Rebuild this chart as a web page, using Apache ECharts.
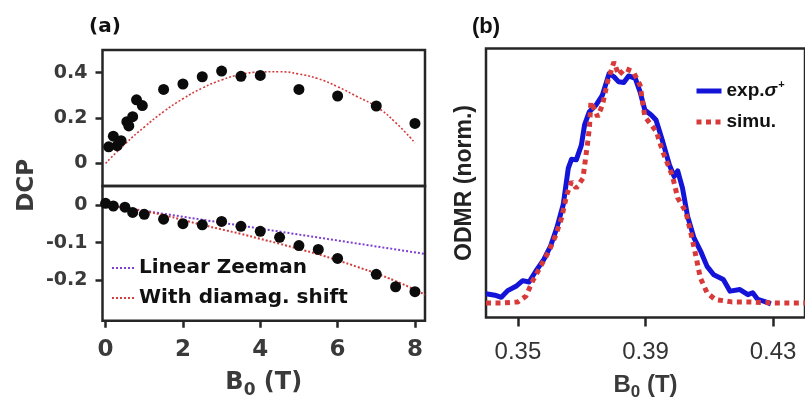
<!DOCTYPE html>
<html><head><meta charset="utf-8">
<script src="https://cdn.jsdelivr.net/npm/echarts@6/dist/echarts.min.js"></script>
<style>html,body{margin:0;padding:0;background:#fff}#c{width:805px;height:412px}</style>
</head><body><div id="c"></div>
<script>
// ---- Panel (a), upper: DCP (positive branch)
const highB = [0.08,0.2,0.3,0.4,0.55,0.6,0.7,0.8,0.95,1.5,2,2.5,3,3.5,4,5,6,7,8];
const highV = [0.073,0.12,0.078,0.10,0.184,0.165,0.206,0.28,0.255,0.326,0.35,0.382,0.407,0.384,0.388,0.326,0.297,0.253,0.176];
const fitB = [0,0.5,1,1.5,2,2.5,3,3.5,4,4.5,5,5.5,6,6.5,7,7.5,8];
const fitHigh = [0.0,0.085,0.16,0.228,0.285,0.332,0.368,0.392,0.403,0.404,0.394,0.373,0.338,0.295,0.25,0.18,0.09];
// ---- Panel (a), lower: DCP (negative branch)
const lowB = [0,0.2,0.5,0.7,1,1.5,2,2.5,3,3.5,4,4.5,5,5.5,6,7,7.5,8];
const lowV = [0.004,-0.003,-0.006,-0.02,-0.025,-0.038,-0.05,-0.053,-0.044,-0.057,-0.07,-0.086,-0.108,-0.118,-0.142,-0.184,-0.217,-0.23];
const zeemanB = [0,8.26];
const zeemanV = [0,-0.13];
const diaB = [0,0.5,1,1.5,2,2.5,3,3.5,4,4.5,5,5.5,6,6.5,7,7.5,8,8.26];
const diaV = [0,-0.008,-0.017,-0.027,-0.04,-0.053,-0.065,-0.077,-0.09,-0.103,-0.117,-0.131,-0.147,-0.164,-0.182,-0.202,-0.225,-0.238];
const aXTicks = [0,2,4,6,8];
const aHighTicks = [0,0.2,0.4];
const aLowTicks = [0,-0.1,-0.2];
// ---- Panel (b): ODMR
const expB = [0.3400,0.3428,0.3448,0.3468,0.3494,0.3515,0.3535,0.3556,0.3581,0.3602,0.3622,0.3642,0.3658,0.3668,0.3683,0.3699,0.3709,0.3724,0.3745,0.3765,0.3786,0.3801,0.3816,0.3832,0.3847,0.3868,0.3883,0.3898,0.3918,0.3933,0.3954,0.3975,0.3990,0.4001,0.4016,0.4032,0.4052,0.4073,0.4093,0.4114,0.4144,0.4165,0.4196,0.4221,0.4236,0.4252,0.4272,0.4293];
const expV = [0.088,0.083,0.075,0.100,0.116,0.137,0.132,0.172,0.215,0.264,0.333,0.419,0.555,0.588,0.586,0.641,0.716,0.765,0.790,0.827,0.907,0.895,0.876,0.874,0.898,0.889,0.839,0.771,0.753,0.734,0.654,0.567,0.524,0.545,0.481,0.376,0.296,0.246,0.190,0.159,0.141,0.098,0.104,0.085,0.092,0.067,0.060,0.051];
const simB = [0.3400,0.3448,0.3500,0.3525,0.3546,0.3571,0.3597,0.3617,0.3637,0.3653,0.3668,0.3683,0.3704,0.3719,0.3724,0.3729,0.3750,0.3765,0.3781,0.3801,0.3816,0.3837,0.3862,0.3883,0.3898,0.3914,0.3934,0.3954,0.3985,0.4001,0.4026,0.4041,0.4057,0.4072,0.4093,0.4118,0.4170,0.4226,0.4301,0.4400];
const simV = [0.054,0.054,0.058,0.079,0.135,0.190,0.246,0.301,0.370,0.456,0.505,0.481,0.518,0.654,0.703,0.802,0.746,0.790,0.876,0.950,0.901,0.926,0.913,0.864,0.746,0.722,0.691,0.617,0.524,0.444,0.394,0.320,0.234,0.147,0.092,0.067,0.058,0.058,0.054,0.054];
const bXTicks = [0.35,0.39,0.43];

const zip = (a,b) => a.map((v,i) => [v,b[i]]);
const LF = 'DejaVu Sans', RF = 'Liberation Sans';
const frame = '#262626', tickCol = '#3a3a3a';
const tickStyle = {lineStyle:{color:frame,width:2.5}};

const subRich = (font, big, small, color) => ({
  b:{fontFamily:font,fontWeight:'bold',fontSize:big,color:color,lineHeight:big+1},
  s:{fontFamily:font,fontWeight:'bold',fontSize:small,color:color,lineHeight:small,padding:[14,0,0,0]}
});

const chart = echarts.init(document.getElementById('c'));
chart.setOption({
  animation:false,
  backgroundColor:'#fff',
  title:[
    {text:'(a)', left:89, top:17, padding:0, textStyle:{fontFamily:LF,fontWeight:'bold',fontSize:20,color:'#111'}},
    {text:'(b)', left:472, top:16, padding:0, textStyle:{fontFamily:RF,fontWeight:'bold',fontSize:22,color:'#111'}}
  ],
  grid:[
    {left:102.5, top:50, width:322.5, height:136, show:true, borderColor:frame, borderWidth:2.5},
    {left:102.5, top:186, width:322.5, height:134.7, show:true, borderColor:frame, borderWidth:2.5},
    {left:102.5, top:50, width:322.5, height:270.7},
    {left:486, top:48.5, width:326, height:269, show:true, borderColor:frame, borderWidth:2.5}
  ],
  xAxis:[
    {gridIndex:0, type:'value', min:-0.08, max:8.26, axisLine:{show:false,onZero:false}, axisTick:{show:false}, axisLabel:{show:false}, splitLine:{show:false}},
    {gridIndex:1, type:'value', min:-0.08, max:8.26, axisLine:{show:false,onZero:false}, splitLine:{show:false},
      axisTick:Object.assign({length:7, customValues:aXTicks}, tickStyle),
      axisLabel:{customValues:aXTicks, margin:18, fontFamily:LF, fontWeight:'bold', fontSize:23, color:tickCol},
      name:'{b|B}{s|0}{b| (T)}', nameLocation:'middle', nameGap:50,
      nameTextStyle:{rich:subRich(LF,24,17,tickCol)}},
    {gridIndex:2, type:'value', min:0, max:1, show:false, axisLine:{onZero:false}},
    {gridIndex:3, type:'value', min:0.34, max:0.44, axisLine:{show:false,onZero:false}, splitLine:{show:false},
      axisTick:Object.assign({length:9, customValues:bXTicks}, tickStyle),
      axisLabel:{customValues:bXTicks, margin:23, fontFamily:RF, fontSize:24, color:'#333', formatter:v=>v.toFixed(2)},
      name:'{b|B}{s|0}{b| (T)}', nameLocation:'middle', nameGap:51,
      nameTextStyle:{rich:subRich(RF,24,17,'#3a3a3a')}}
  ],
  yAxis:[
    {gridIndex:0, type:'value', min:-0.1, max:0.5, axisLine:{show:false,onZero:false}, splitLine:{show:false},
      axisTick:Object.assign({length:7, customValues:aHighTicks}, tickStyle),
      axisLabel:{customValues:aHighTicks, margin:15, fontFamily:LF, fontWeight:'bold', fontSize:19, color:tickCol, formatter:v=>String(+v.toFixed(1))}},
    {gridIndex:1, type:'value', min:-0.307, max:0.05, axisLine:{show:false,onZero:false}, splitLine:{show:false},
      axisTick:Object.assign({length:7, customValues:aLowTicks}, tickStyle),
      axisLabel:{customValues:aLowTicks, margin:15, fontFamily:LF, fontWeight:'bold', fontSize:19, color:tickCol, formatter:v=>String(+v.toFixed(1))}},
    {gridIndex:2, type:'value', min:0, max:1, axisLine:{show:false,onZero:false}, axisTick:{show:false}, axisLabel:{show:false}, splitLine:{show:false},
      name:'DCP', nameLocation:'middle', nameGap:64,
      nameTextStyle:{fontFamily:LF, fontWeight:'bold', fontSize:23, color:tickCol}},
    {gridIndex:3, type:'value', min:0, max:1, axisLine:{show:false,onZero:false}, axisTick:{show:false}, axisLabel:{show:false}, splitLine:{show:false},
      name:'ODMR (norm.)', nameLocation:'middle', nameGap:10,
      nameTextStyle:{fontFamily:RF, fontWeight:'bold', fontSize:23, color:'#222'}}
  ],
  legend:[
    {data:['Linear Zeeman','With diamag. shift'], left:111, top:257, orient:'vertical', padding:0,
      itemWidth:22, itemHeight:12, itemGap:8, itemStyle:{opacity:0}, lineStyle:{width:2},
      textStyle:{fontFamily:LF, fontWeight:'bold', fontSize:20, color:'#111', lineHeight:22}},
    {data:[{name:'exp', lineStyle:{width:5}}, {name:'simu.', lineStyle:{width:5}}], left:694, top:79, orient:'vertical', padding:0,
      itemWidth:25, itemHeight:12, itemGap:8, itemStyle:{opacity:0}, lineStyle:{width:5},
      formatter:n => n === 'exp' ? '{a|exp.}{g|σ}{p|+}' : '{a|simu.}',
      textStyle:{fontFamily:RF, fontWeight:'bold', fontSize:19, color:'#111', lineHeight:22,
        rich:{
          a:{fontFamily:RF, fontWeight:'bold', fontSize:19, color:'#111', lineHeight:22},
          g:{fontFamily:RF, fontStyle:'italic', fontSize:19, color:'#111', lineHeight:22},
          p:{fontFamily:RF, fontWeight:'bold', fontSize:11, color:'#111', lineHeight:11, padding:[0,0,13,1]}
        }}}
  ],
  series:[
    {type:'line', name:'fitHigh', xAxisIndex:0, yAxisIndex:0, data:zip(fitB,fitHigh), smooth:true, symbol:'none',
      lineStyle:{color:'#d23c3c', width:1.6, type:[2,2]}, z:2},
    {type:'scatter', name:'high', xAxisIndex:0, yAxisIndex:0, data:zip(highB,highV), symbolSize:11,
      itemStyle:{color:'#0b0b0b', opacity:1}, z:3},
    {type:'line', name:'Linear Zeeman', xAxisIndex:1, yAxisIndex:1, data:zip(zeemanB,zeemanV), symbol:'none',
      lineStyle:{color:'#7b3fd2', width:2, type:[2,2]}, itemStyle:{color:'#7b3fd2'}, z:2},
    {type:'line', name:'With diamag. shift', xAxisIndex:1, yAxisIndex:1, data:zip(diaB,diaV), smooth:true, symbol:'none',
      lineStyle:{color:'#d23c3c', width:2, type:[2,2]}, itemStyle:{color:'#d23c3c'}, z:2},
    {type:'scatter', name:'low', xAxisIndex:1, yAxisIndex:1, data:zip(lowB,lowV), symbolSize:11,
      itemStyle:{color:'#0b0b0b', opacity:1}, z:3},
    {type:'line', name:'exp', xAxisIndex:3, yAxisIndex:3, data:zip(expB,expV), symbol:'none',
      lineStyle:{color:'#1414d8', width:5, join:'round'}, itemStyle:{color:'#1414d8'}, z:2},
    {type:'line', name:'simu.', xAxisIndex:3, yAxisIndex:3, data:zip(simB,simV), symbol:'none',
      lineStyle:{color:'#d83a3a', width:5, type:[5,4.5]}, itemStyle:{color:'#d83a3a'}, z:3}
  ]
});
</script></body></html>
